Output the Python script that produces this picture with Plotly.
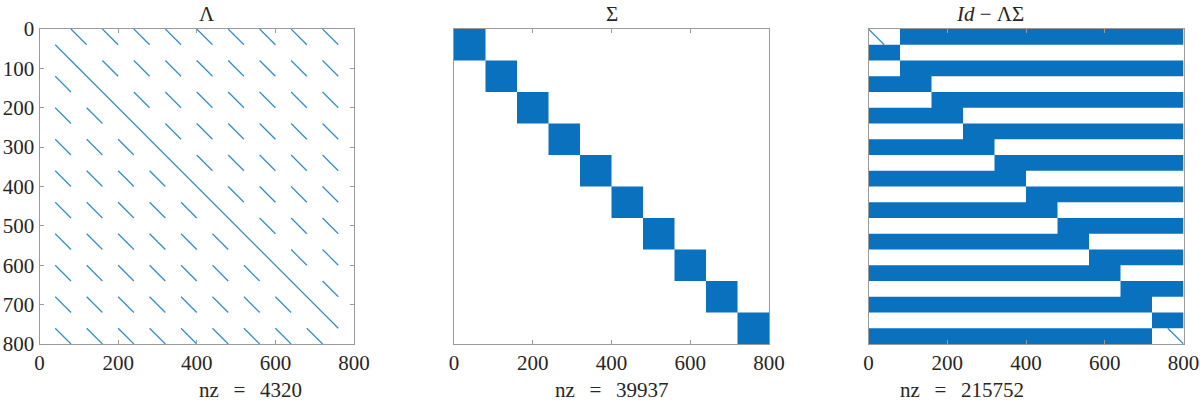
import plotly.graph_objects as go

# sparsity patterns (800 x 800 matrices, 40-row bands)
N = 800
seg_len = 40

# Lambda: short diagonal segments, one list of start columns per 40-row band
lam_band_rows = [0, 40, 80, 120, 160, 200, 240, 280, 320, 360,
                 400, 440, 480, 520, 560, 600, 640, 680, 720, 760]
lam_band_cols = [
    [80, 160, 240, 320, 400, 480, 560, 640, 720],
    [],
    [160, 240, 320, 400, 480, 560, 640, 720],
    [40],
    [240, 320, 400, 480, 560, 640, 720],
    [40, 120],
    [320, 400, 480, 560, 640, 720],
    [40, 120, 200],
    [400, 480, 560, 640, 720],
    [40, 120, 200, 280],
    [480, 560, 640, 720],
    [40, 120, 200, 280, 360],
    [560, 640, 720],
    [40, 120, 200, 280, 360, 440],
    [640, 720],
    [40, 120, 200, 280, 360, 440, 520],
    [720],
    [40, 120, 200, 280, 360, 440, 520, 600],
    [],
    [40, 120, 200, 280, 360, 440, 520, 600, 680],
]
lam_diag = (40, 760)

# Sigma: dense diagonal blocks
sigma_starts = [0, 80, 160, 240, 320, 400, 480, 560, 640, 720]
sigma_size = 80

# Id - Lambda*Sigma: filled column range per 40-row band
ils_band_rows = lam_band_rows
ils_band_fill = [
    (80, 800), (0, 80), (80, 800), (0, 160), (160, 800),
    (0, 240), (240, 800), (0, 320), (320, 800), (0, 400),
    (400, 800), (0, 480), (480, 800), (0, 560), (560, 800),
    (0, 640), (640, 800), (0, 720), (720, 800), (0, 720),
]
ils_diags = [(0, 40), (760, 800)]

titles = ["Λ", "Σ", "<i>Id</i> − ΛΣ"]
nz = [4320, 39937, 215752]
ticks = [0, 200, 400, 600, 800]
yticks = [0, 100, 200, 300, 400, 500, 600, 700, 800]

BLOCK = "#0a71bf"
LINE = "#2f8ad2"
AXC = "#9a9a9a"
FONT = "Liberation Serif"
FS = 21
W, H = 1200, 404


def px_x(v):
    return v / W


def px_y(v):
    return 1 - v / H


def rects(boxes):
    xs, ys = [], []
    for x0, x1, y0, y1 in boxes:
        xs += [x0, x1, x1, x0, x0, None]
        ys += [y0, y0, y1, y1, y0, None]
    return xs, ys


def segs(lines):
    xs, ys = [], []
    for x0, y0, length in lines:
        xs += [x0, x0 + length, None]
        ys += [y0, y0 + length, None]
    return xs, ys


fig = go.Figure()

# panel 1
lam_lines = [(c, r, seg_len) for r, cols in zip(lam_band_rows, lam_band_cols) for c in cols]
lam_lines.append((lam_diag[0], lam_diag[0], lam_diag[1] - lam_diag[0]))
x, y = segs(lam_lines)
fig.add_trace(go.Scatter(x=x, y=y, mode="lines", line=dict(color=LINE, width=1.2),
                         xaxis="x", yaxis="y", hoverinfo="skip"))

# panel 2
x, y = rects([(s, s + sigma_size, s, s + sigma_size) for s in sigma_starts])
fig.add_trace(go.Scatter(x=x, y=y, mode="none", fill="toself", fillcolor=BLOCK,
                         xaxis="x2", yaxis="y2", hoverinfo="skip"))

# panel 3
x, y = rects([(c0, c1, r, r + seg_len) for r, (c0, c1) in zip(ils_band_rows, ils_band_fill)])
fig.add_trace(go.Scatter(x=x, y=y, mode="none", fill="toself", fillcolor=BLOCK,
                         xaxis="x3", yaxis="y3", hoverinfo="skip"))
x, y = segs([(a, a, b - a) for a, b in ils_diags])
fig.add_trace(go.Scatter(x=x, y=y, mode="lines", line=dict(color=LINE, width=1.2),
                         xaxis="x3", yaxis="y3", hoverinfo="skip"))

domains = [[px_x(39.5), px_x(354)], [px_x(454), px_x(769)], [px_x(868.5), px_x(1183.5)]]
ydom = [px_y(344), px_y(29)]

layout = dict(
    width=W, height=H, showlegend=False,
    margin=dict(l=0, r=0, t=0, b=0),
    plot_bgcolor="white", paper_bgcolor="white",
    font=dict(family=FONT, size=FS, color="#262626"),
)
for i in range(3):
    sfx = "" if i == 0 else str(i + 1)
    layout["xaxis" + sfx] = dict(
        domain=domains[i], range=[0, N], anchor="y" + sfx, automargin=False,
        tickvals=ticks, ticks="inside", ticklen=4, tickcolor=AXC,
        showline=True, linecolor=AXC, linewidth=1, mirror="ticks",
        showgrid=False, zeroline=False, fixedrange=True,
        tickfont=dict(size=FS),
    )
    layout["yaxis" + sfx] = dict(
        domain=ydom, range=[N, 0], anchor="x" + sfx, automargin=False,
        tickvals=yticks if i == 0 else [], ticks="inside" if i == 0 else "",
        ticklen=4, tickcolor=AXC, showticklabels=(i == 0),
        showline=True, linecolor=AXC, linewidth=1,
        mirror="ticks" if i == 0 else True,
        showgrid=False, zeroline=False, fixedrange=True,
        tickfont=dict(size=FS),
    )

fig.update_layout(**layout)

for i in range(3):
    cx = sum(domains[i]) / 2
    fig.add_annotation(text=titles[i], x=cx, y=px_y(14), yanchor="middle",
                       xref="paper", yref="paper", showarrow=False,
                       font=dict(family=FONT, size=FS, color="#262626"))
    fig.add_annotation(text=f"nz&#8194;&#8201;=&#8194;&#8201;{nz[i]}", x=cx, y=0,
                       yanchor="bottom",
                       xref="paper", yref="paper", showarrow=False,
                       font=dict(family=FONT, size=FS, color="#262626"))

# drop the default 8px page margin so the figure sits flush in the window
fig.write_html("out.html", config={"displayModeBar": False},
               post_script="document.body.style.margin = '0';")
